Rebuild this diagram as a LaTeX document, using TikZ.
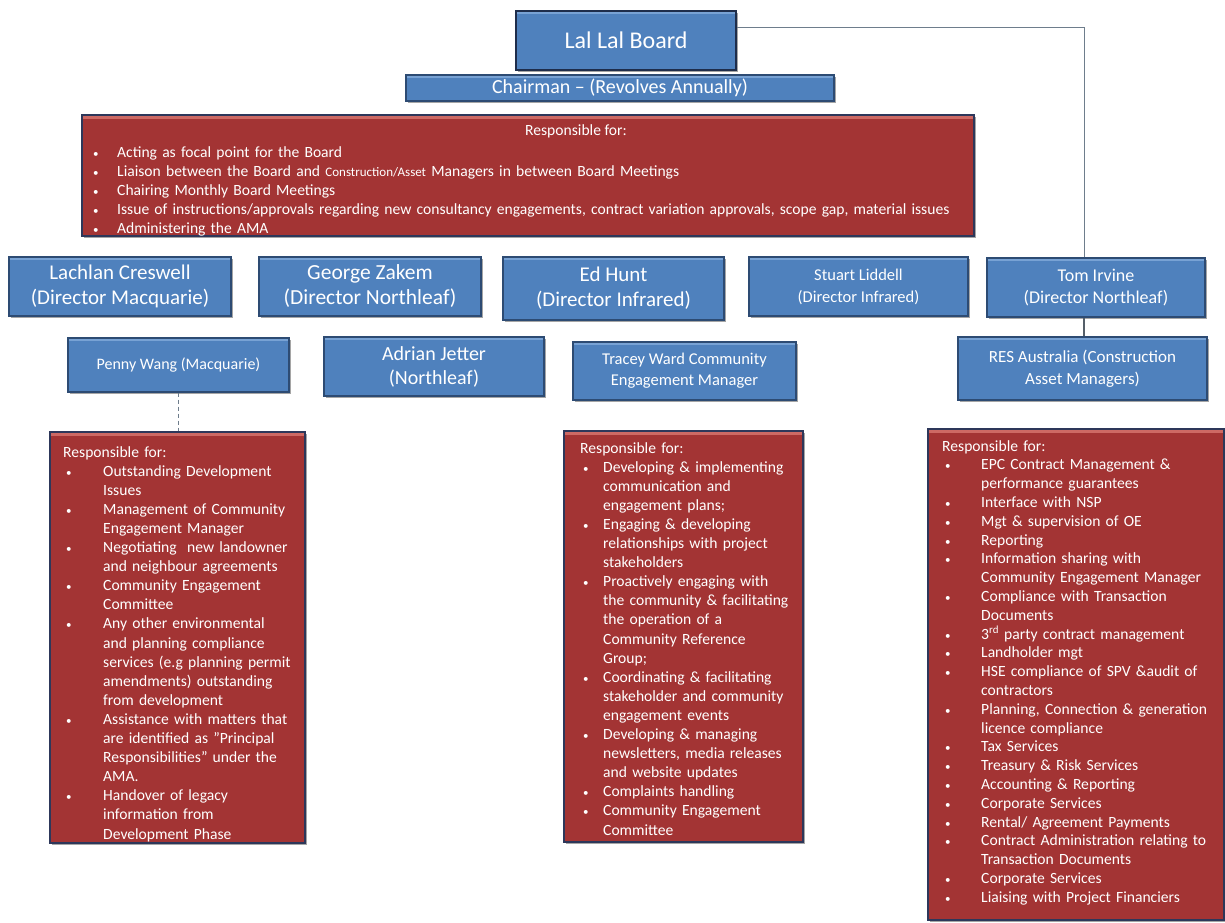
\documentclass[tikz,border=0pt]{standalone}
\usepackage{fontspec}
\setmainfont{Carlito}
\usetikzlibrary{shadows}
\definecolor{boxblue}{RGB}{79,129,189}
\definecolor{bluehi}{RGB}{120,162,212}
\definecolor{boxblueedge}{RGB}{45,75,115}
\definecolor{boardedge}{RGB}{30,45,75}
\definecolor{boxred}{RGB}{163,52,52}
\definecolor{redhi}{RGB}{205,105,100}
\definecolor{rededge}{RGB}{45,55,90}
\definecolor{linkgray}{RGB}{110,125,140}
\definecolor{linkdark}{RGB}{85,95,105}
\newlength{\bind}
\newcommand\bul{\makebox[\bind][l]{\hspace{3pt}{\fontsize{11}{11}\selectfont\textbullet}}}
\newcommand\blfirst[1]{\noindent\bul#1}
\newcommand\bl[1]{\par\noindent\bul#1}
\newcommand\cl[1]{\par\noindent\hspace*{\bind}#1}
\tikzset{
  bluebox/.style={draw=boxblueedge, fill=boxblue, line width=1.2pt, text=white, align=center, inner sep=0pt,
    drop shadow={shadow xshift=1.5pt, shadow yshift=-1.5pt, fill=black!70, opacity=0.5},
    path picture={\fill[bluehi] ([yshift=-0.5pt]path picture bounding box.north west) rectangle ([yshift=-2.5pt]path picture bounding box.north east);}},
  redbox/.style={draw=rededge, fill=boxred, line width=1.8pt, inner sep=0pt,
    drop shadow={shadow xshift=1.5pt, shadow yshift=-1.5pt, fill=black!70, opacity=0.5},
    path picture={\fill[redhi] ([yshift=-1pt]path picture bounding box.north west) rectangle ([yshift=-4pt]path picture bounding box.north east);}},
  listtext/.style={text=white, inner sep=0pt, anchor=north west, align=left,
    font=\fontsize{15.6}{19.1}\selectfont},
  link/.style={draw=linkgray, line width=1pt},
  darklink/.style={draw=linkdark, line width=1.5pt},
  dashlink/.style={draw=linkgray, line width=1pt, dash pattern=on 4pt off 3pt},
}
\begin{document}
\begin{tikzpicture}[x=1pt,y=-1pt]
\useasboundingbox (0,0) rectangle (1225,922);
\fill[white] (0,0) rectangle (1225,922);

% top
\node[bluebox, draw=boardedge, line width=2.5pt, minimum width=220pt, minimum height=59pt,
  font=\fontsize{24}{28}\selectfont] (board) at (626,40.5) {Lal Lal Board};
\node[bluebox, minimum width=428pt, minimum height=26pt, font=\fontsize{20}{24}\selectfont]
  (chair) at (620,88) {Chairman -- (Revolves Annually)};

% top red box
\node[redbox, minimum width=892pt, minimum height=121pt] (topred) at (528,175.5) {};
\node[text=white, inner sep=0pt, font=\fontsize{15.6}{19.1}\selectfont] (tophead) at (576,131) {Responsible for:};
\node[listtext, text width=880pt] (toplist) at (90,146) {\setlength{\bind}{27pt}\setlength{\parskip}{0pt}%
\blfirst{Acting as focal point for the Board}
\bl{Liaison between the Board and {\fontsize{13}{19.1}\selectfont Construction/Asset} Managers in between Board Meetings}
\bl{Chairing Monthly Board Meetings}
\bl{Issue of instructions/approvals regarding new consultancy engagements, contract variation approvals, scope gap, material issues}
\bl{Administering the AMA}};

% directors
\node[bluebox, minimum width=222pt, minimum height=59pt, font=\fontsize{21}{25}\selectfont]
  (lach) at (120,286.5) {Lachlan Creswell\\(Director Macquarie)};
\node[bluebox, minimum width=222pt, minimum height=59pt, font=\fontsize{21.5}{25}\selectfont]
  (george) at (370,286.5) {George Zakem\\(Director Northleaf)};
\node[bluebox, minimum width=221pt, minimum height=63pt, font=\fontsize{21}{25}\selectfont]
  (ed) at (613.5,288.5) {Ed Hunt\\(Director Infrared)};
\node[bluebox, minimum width=219pt, minimum height=59pt, font=\fontsize{16.5}{22}\selectfont]
  (stuart) at (858.5,286.5) {Stuart Liddell\\(Director Infrared)};
\node[bluebox, minimum width=218pt, minimum height=59pt, font=\fontsize{18}{22}\selectfont]
  (tom) at (1096,287.5) {Tom Irvine\\(Director Northleaf)};

% third row
\node[bluebox, minimum width=221pt, minimum height=54pt, font=\fontsize{16}{20}\selectfont]
  (penny) at (178.5,365) {Penny Wang (Macquarie)};
\node[bluebox, minimum width=220pt, minimum height=59pt, font=\fontsize{20}{24}\selectfont]
  (adrian) at (434,366.5) {Adrian Jetter\\(Northleaf)};
\node[bluebox, minimum width=223pt, minimum height=58pt, font=\fontsize{16.5}{21}\selectfont]
  (tracey) at (684.5,371) {Tracey Ward Community\\Engagement Manager};
\node[bluebox, minimum width=249pt, minimum height=63pt, font=\fontsize{17}{22}\selectfont]
  (res) at (1082.5,368.5) {RES Australia (Construction\\Asset Managers)};

% connectors
\coordinate (corner) at (1084,27);
\draw[link] (board.east |- corner) -- (corner) -- (corner |- tom.north);
\draw[darklink] (corner |- tom.south) -- (corner |- res.north);

% red lists
\node[redbox, minimum width=255pt, minimum height=411pt] (leftred) at (177.5,637.5) {};
\draw[dashlink] (penny.south) -- (penny.south |- leftred.north);
\node[listtext, text width=250pt] (leftlist) at (63,446) {\setlength{\bind}{40pt}\setlength{\parskip}{0pt}%
\noindent Responsible for:
\bl{Outstanding Development}
\cl{Issues}
\bl{Management of Community}
\cl{Engagement Manager}
\bl{Negotiating\ \ new landowner}
\cl{and neighbour agreements}
\bl{Community Engagement}
\cl{Committee}
\bl{Any other environmental}
\cl{and planning compliance}
\cl{services (e.g planning permit}
\cl{amendments) outstanding}
\cl{from development}
\bl{Assistance with matters that}
\cl{are identified as "Principal}
\cl{Responsibilities" under the}
\cl{AMA.}
\bl{Handover of legacy}
\cl{information from}
\cl{Development Phase}};

\node[redbox, minimum width=239pt, minimum height=411pt] (midred) at (683.5,636.5) {};
\node[listtext, text width=235pt] (midlist) at (580,442) {\setlength{\bind}{23pt}\setlength{\parskip}{0pt}%
\noindent Responsible for:
\bl{Developing \& implementing}
\cl{communication and}
\cl{engagement plans;}
\bl{Engaging \& developing}
\cl{relationships with project}
\cl{stakeholders}
\bl{Proactively engaging with}
\cl{the community \& facilitating}
\cl{the operation of a}
\cl{Community Reference}
\cl{Group;}
\bl{Coordinating \& facilitating}
\cl{stakeholder and community}
\cl{engagement events}
\bl{Developing \& managing}
\cl{newsletters, media releases}
\cl{and website updates}
\bl{Complaints handling}
\bl{Community Engagement}
\cl{Committee}};

\node[redbox, minimum width=296pt, minimum height=491pt] (rightred) at (1076,674.5) {};
\node[listtext, text width=290pt, font=\fontsize{15.6}{18.8}\selectfont] (rightlist) at (942,440) {\setlength{\bind}{39pt}\setlength{\parskip}{0pt}%
\noindent Responsible for:
\bl{EPC Contract Management \&}
\cl{performance guarantees}
\bl{Interface with NSP}
\bl{Mgt \& supervision of OE}
\bl{Reporting}
\bl{Information sharing with}
\cl{Community Engagement Manager}
\bl{Compliance with Transaction}
\cl{Documents}
\bl{3\smash{\textsuperscript{rd}} party contract management}
\bl{Landholder mgt}
\bl{HSE compliance of SPV \&audit of}
\cl{contractors}
\bl{Planning, Connection \& generation}
\cl{licence compliance}
\bl{Tax Services}
\bl{Treasury \& Risk Services}
\bl{Accounting \& Reporting}
\bl{Corporate Services}
\bl{Rental/ Agreement Payments}
\bl{Contract Administration relating to}
\cl{Transaction Documents}
\bl{Corporate Services}
\bl{Liaising with Project Financiers}};
\end{tikzpicture}
\end{document}
